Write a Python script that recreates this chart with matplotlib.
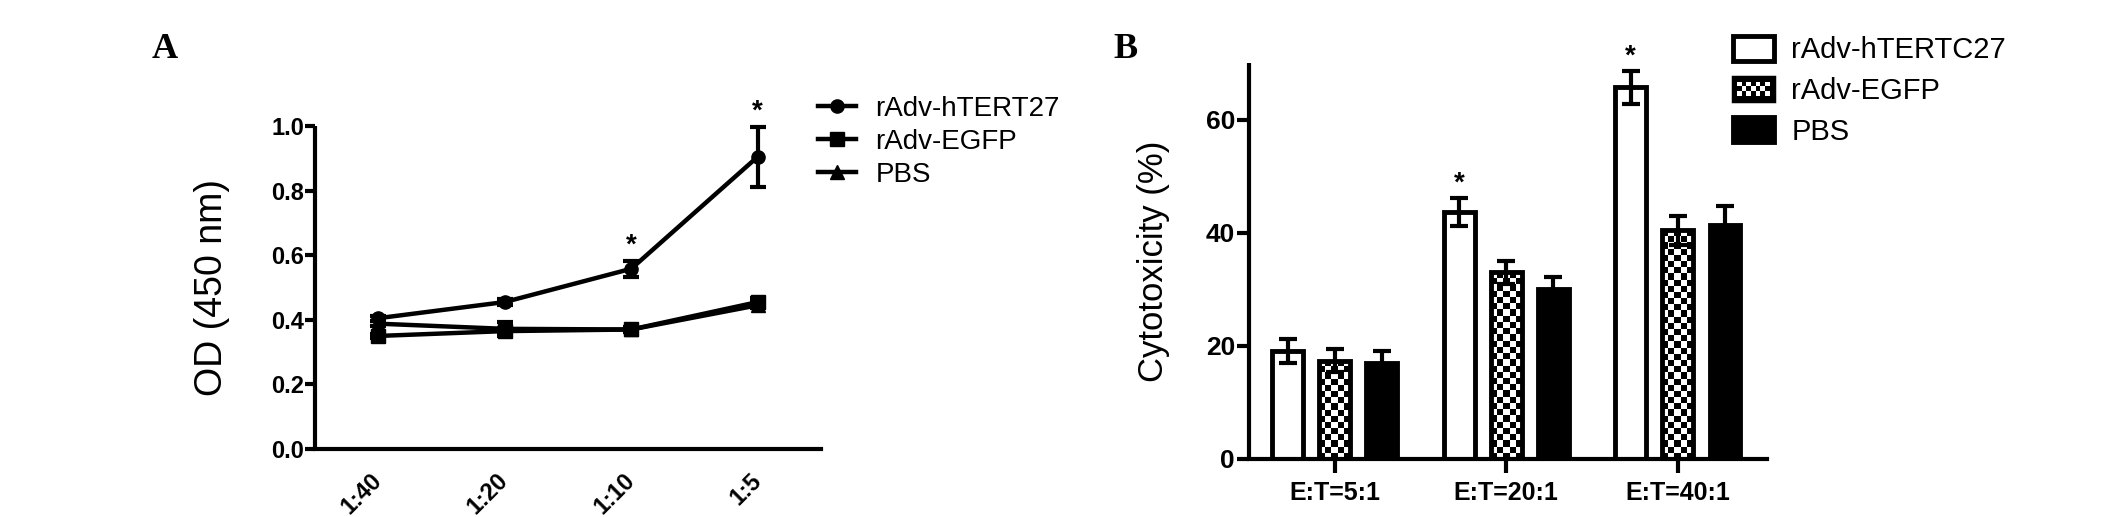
import numpy as np
import matplotlib
matplotlib.use("Agg")
import matplotlib.pyplot as plt
from matplotlib import font_manager
from matplotlib.patches import Rectangle, Patch
from matplotlib.legend_handler import HandlerBase

plt.rcParams['font.family'] = 'Liberation Sans'

# panel A data
dilutions = ['1:40', '1:20', '1:10', '1:5']
od_htert = [0.405, 0.455, 0.558, 0.905]
od_htert_err = [0.008, 0.010, 0.024, 0.093]
od_egfp = [0.350, 0.365, 0.370, 0.455]
od_egfp_err = [0.005, 0.010, 0.008, 0.012]
od_pbs = [0.388, 0.372, 0.370, 0.445]
od_pbs_err = [0.008, 0.022, 0.008, 0.010]
od_signif = [False, False, True, True]

# panel B data
ratios = ['E:T=5:1', 'E:T=20:1', 'E:T=40:1']
cyt_htert = [19.1, 43.7, 65.7]
cyt_htert_err = [2.2, 2.5, 2.9]
cyt_egfp = [17.4, 33.0, 40.4]
cyt_egfp_err = [2.1, 2.0, 2.5]
cyt_pbs = [16.9, 30.1, 41.3]
cyt_pbs_err = [2.2, 2.1, 3.5]
cyt_signif = [False, True, True]

W, H = 2126, 517
fig = plt.figure(figsize=(W/100, H/100), dpi=100)

names = {f.name for f in font_manager.fontManager.ttflist}
narrow = 'Liberation Sans Narrow' if 'Liberation Sans Narrow' in names else None

LW = 3

def style_axes(ax):
    ax.spines['top'].set_visible(False)
    ax.spines['right'].set_visible(False)
    ax.spines['left'].set_linewidth(LW)
    ax.spines['bottom'].set_linewidth(LW)
    ax.spines['left'].set_capstyle('butt')
    ax.patch.set_visible(False)

# ---------------- panel A ----------------
axA = fig.add_axes([315/W, (H-449)/H, (821-315)/W, 323/H])
style_axes(axA)
x = np.arange(len(dilutions))
series = [(od_htert, od_htert_err, 'o', 'rAdv-hTERT27'),
          (od_egfp, od_egfp_err, 's', 'rAdv-EGFP'),
          (od_pbs, od_pbs_err, '^', 'PBS')]
handlesA = []
for vals, errs, mk, lab in series:
    axA.errorbar(x, vals, yerr=errs, fmt='none', ecolor='black', elinewidth=LW,
                 capsize=6, capthick=LW, clip_on=False, zorder=3)
    ln, = axA.plot(x, vals, color='black', lw=3.2, marker=mk, markersize=9.5,
                   label=lab, clip_on=False, zorder=4)
    handlesA.append(ln)
for xi, v, e, s in zip(x, od_htert, od_htert_err, od_signif):
    if s:
        axA.annotate('*', (xi, v + e), xytext=(0, 6), textcoords='offset points',
                     ha='center', va='baseline', fontsize=20, fontweight='bold',
                     annotation_clip=False)
axA.set_xlim(-0.5, 3.5)
axA.set_ylim(0, 1.0)
axA.set_yticks([0.0, 0.2, 0.4, 0.6, 0.8, 1.0])
axA.set_yticklabels(['%.1f' % t for t in [0.0, 0.2, 0.4, 0.6, 0.8, 1.0]])
axA.set_xticks(x)
axA.set_xticklabels(dilutions, rotation=45, ha='right', va='center', rotation_mode='anchor')
axA.tick_params(axis='y', length=7, width=LW, pad=1, labelsize=17)
axA.tick_params(axis='x', length=0, pad=20, labelsize=17)
for t in axA.get_xticklabels() + axA.get_yticklabels():
    t.set_fontweight('bold')
axA.set_ylabel('OD (450 nm)', fontsize=27)
axA.yaxis.set_label_coords((230-315)/506, 0.5)

fig.legend(handles=handlesA, loc='upper left', bbox_to_anchor=(818/W, 1-96/H),
           frameon=False, fontsize=20, handlelength=1.35, handletextpad=0.72,
           labelspacing=0.25, borderpad=0, borderaxespad=0)

# ---------------- panel B ----------------
axB = fig.add_axes([1249/W, (H-459)/H, (1767-1249)/W, 396/H])
style_axes(axB)
xb = np.arange(len(ratios))
bw = 0.18
off = 0.275
err_kw = dict(ecolor='black', elinewidth=LW, capsize=6.5, capthick=LW)
bars_w = axB.bar(xb - off, cyt_htert, bw, yerr=cyt_htert_err, color='white',
                 edgecolor='black', linewidth=3.5, error_kw=err_kw, zorder=2)
bars_c = axB.bar(xb, cyt_egfp, bw, yerr=cyt_egfp_err, color='none',
                 edgecolor='black', linewidth=3.5, error_kw=err_kw, zorder=2)
bars_k = axB.bar(xb + off, cyt_pbs, bw, yerr=cyt_pbs_err, color='black',
                 edgecolor='black', linewidth=3.5, error_kw=err_kw, zorder=2)

# checkerboard fill for the rAdv-EGFP bars
for b in bars_c:
    x0, w, h = b.get_x(), b.get_width(), b.get_height()
    nx = 5
    ny = max(1, int(round(h / 1.1)))
    tex = np.indices((ny, nx)).sum(axis=0) % 2
    im = axB.imshow(tex, cmap='gray', interpolation='nearest', aspect='auto',
                    extent=(x0, x0 + w, 0, h), origin='lower', zorder=1.5)
    im.set_clip_path(b)

for xi, v, e, s in zip(xb - off, cyt_htert, cyt_htert_err, cyt_signif):
    if s:
        axB.annotate('*', (xi, v + e), xytext=(0, 5), textcoords='offset points',
                     ha='center', va='baseline', fontsize=20, fontweight='bold',
                     annotation_clip=False)

axB.set_xlim(-0.5, 2.52)
axB.set_ylim(0, 70)
axB.set_yticks([0, 20, 40, 60])
axB.set_xticks(xb)
axB.set_xticklabels(ratios)
axB.tick_params(axis='x', length=10, width=LW, pad=6, labelsize=18)
if narrow:
    axB.tick_params(axis='y', length=9, width=LW, pad=1, labelsize=23)
    for t in axB.get_yticklabels():
        t.set_fontfamily(narrow)
else:
    axB.tick_params(axis='y', length=9, width=LW, pad=1, labelsize=19)
for t in axB.get_xticklabels() + axB.get_yticklabels():
    t.set_fontweight('bold')
axB.set_ylabel('Cytotoxicity (%)', fontsize=25)
axB.yaxis.set_label_coords((1170-1249)/518, 0.5)


class HandlerChecker(HandlerBase):
    def create_artists(self, legend, orig_handle, xdescent, ydescent,
                       width, height, fontsize, trans):
        x0, y0 = -xdescent, -ydescent
        arts = [Rectangle((x0, y0), width, height, facecolor='black',
                          edgecolor='black', lw=2.5, transform=trans)]
        nx, ny = 7, 3
        bx, by = width * 0.1, height * 0.2
        cw = (width - 2 * bx) / nx
        ch = (height - 2 * by) / ny
        for i in range(nx):
            for j in range(ny):
                if (i + j) % 2 == 0:
                    arts.append(Rectangle((x0 + bx + i * cw, y0 + by + j * ch), cw, ch,
                                          facecolor='white', lw=0, transform=trans))
        return arts


h_w = Patch(facecolor='white', edgecolor='black', linewidth=3.5, label='rAdv-hTERTC27')
h_c = Patch(facecolor='black', label='rAdv-EGFP')
h_k = Patch(facecolor='black', edgecolor='black', linewidth=3.5, label='PBS')
fig.legend(handles=[h_w, h_c, h_k], handler_map={h_c: HandlerChecker()},
           loc='upper left', bbox_to_anchor=(1733/W, 1-36/H), frameon=False,
           fontsize=21, handlelength=1.4, handleheight=0.92, handletextpad=0.6,
           labelspacing=0.42, borderpad=0, borderaxespad=0)

# panel letters
fig.text(152/W, 1-58/H, 'A', family='Liberation Serif', fontweight='bold',
         fontsize=26, va='baseline', ha='left')
fig.text(1113/W, 1-58/H, 'B', family='Liberation Serif', fontweight='bold',
         fontsize=26, va='baseline', ha='left')

fig.savefig('out.png', dpi=100, facecolor='white')
